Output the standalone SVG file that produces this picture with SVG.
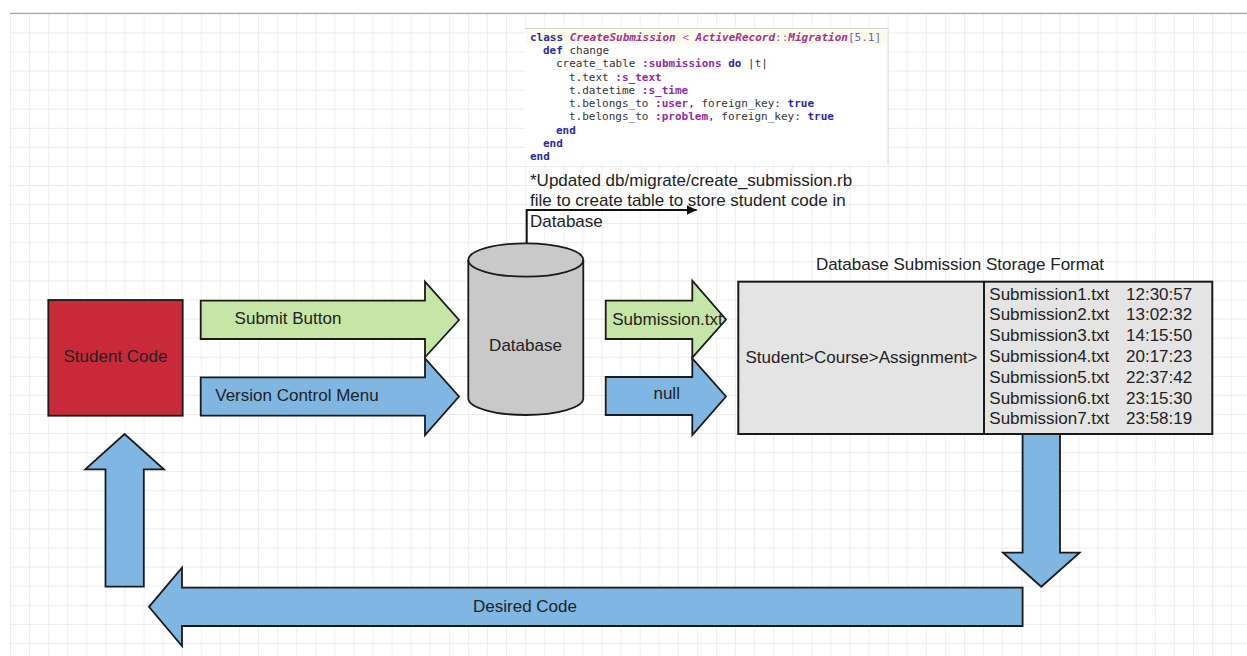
<svg xmlns="http://www.w3.org/2000/svg" width="1247" height="656" viewBox="0 0 1247 656">
<style>
.t{font-family:"Liberation Sans",Arial,sans-serif;font-size:17px;fill:#222}
.c{text-anchor:middle}
.ar{stroke:#1a1a1a;stroke-width:1.8;stroke-linejoin:miter}
.g{fill:#c6e6a7}
.b{fill:#80b7e2}
.code{font-family:"DejaVu Sans Mono",monospace;font-size:11px;fill:#333}
.kw{font-weight:bold;fill:#2a2aa0}
.sym{font-weight:bold;fill:#932ca3}
.cn{font-weight:bold;font-style:italic;fill:#a2358c}
.num{fill:#6a5cc4}
.op{fill:#a060a8}
</style>
<defs>
<pattern id="grid" x="10" y="13.3" width="19.08" height="19.08" patternUnits="userSpaceOnUse">
<path d="M0,0 V19.08 M0,0 H19.08" fill="none" stroke="#e4e4e4" stroke-width="1.2"/>
</pattern>
<marker id="ah" markerWidth="10" markerHeight="10" refX="10" refY="5" orient="auto" markerUnits="userSpaceOnUse" viewBox="0 0 10 10">
<path d="M0,0 L10,5 L0,10 Z" fill="#111"/>
</marker>
</defs>
<rect width="1247" height="656" fill="#fff"/>
<rect x="10" y="13.3" width="1237" height="642.7" fill="url(#grid)"/>
<line x1="10" y1="13.3" x2="1247" y2="13.3" stroke="#a8a8a8" stroke-width="1.2"/>

<g id="code-image">
<rect x="525" y="28.5" width="363" height="135.5" fill="#fff"/>
<line x1="525" y1="28.5" x2="888" y2="28.5" stroke="#d0d0d0"/>
<line x1="888" y1="28.5" x2="888" y2="164" stroke="#d8d8d8"/>
<rect x="526" y="29.5" width="361" height="15" fill="#fcfaea"/>
<text class="code" x="530" y="40.7"><tspan class="kw">class</tspan> <tspan class="cn">CreateSubmission</tspan> <tspan class="op">&lt;</tspan> <tspan class="cn">ActiveRecord</tspan><tspan class="op">::</tspan><tspan class="cn">Migration</tspan><tspan class="num">[5.1]</tspan></text>
<text class="code" x="543" y="54"><tspan class="kw">def</tspan> change</text>
<text class="code" x="556" y="67.2">create_table <tspan class="sym">:submissions</tspan> <tspan class="kw">do</tspan> |t|</text>
<text class="code" x="569" y="80.5">t.text <tspan class="sym">:s_text</tspan></text>
<text class="code" x="569" y="93.7">t.datetime <tspan class="sym">:s_time</tspan></text>
<text class="code" x="569" y="107">t.belongs_to <tspan class="sym">:user</tspan>, foreign_key: <tspan class="kw">true</tspan></text>
<text class="code" x="569" y="120.3">t.belongs_to <tspan class="sym">:problem</tspan>, foreign_key: <tspan class="kw">true</tspan></text>
<text class="code" x="556" y="133.5"><tspan class="kw">end</tspan></text>
<text class="code" x="543" y="146.8"><tspan class="kw">end</tspan></text>
<text class="code" x="530" y="160"><tspan class="kw">end</tspan></text>
</g>

<g id="note">
<text class="t" x="530" y="186">*Updated db/migrate/create_submission.rb</text>
<text class="t" x="530" y="206.3">file to create table to store student code in</text>
<text class="t" x="530" y="226.7">Database</text>
</g>

<g id="connectors">
<polyline points="526.7,243.3 526.7,210 696.7,210" fill="none" stroke="#111" stroke-width="2" marker-end="url(#ah)"/>
</g>

<g id="student-code">
<rect x="48.3" y="300" width="134.4" height="115.7" fill="#c92a3a" stroke="#1a1a1a" stroke-width="1.8"/>
<text class="t c" x="115.5" y="362">Student Code</text>
</g>

<g id="submit-button">
<path class="ar g" d="M200.7,300.7 H425 V281.7 L459,320 L425,357.3 V339 H200.7 Z"/>
<text class="t c" x="288" y="324.4">Submit Button</text>
</g>

<g id="version-control-menu">
<path class="ar b" d="M200.7,377.3 H425 V358.3 L459,396.5 L425,435 V415.7 H200.7 Z"/>
<text class="t c" x="297" y="401">Version Control Menu</text>
</g>

<g id="database">
<path d="M468.3,260 A57.5,16.7 0 0 1 583.3,260 V398.3 A57.5,16.7 0 0 1 468.3,398.3 Z" fill="#c9c9c9" stroke="#1a1a1a" stroke-width="1.8"/>
<path d="M468.3,260 A57.5,16.7 0 0 0 583.3,260" fill="none" stroke="#1a1a1a" stroke-width="1.8"/>
<text class="t c" x="525.5" y="351">Database</text>
</g>

<g id="submission-txt">
<path class="ar g" d="M605.7,300.7 H692.3 V280.7 L726,319.5 L692.3,357.7 V339 H605.7 Z"/>
<text class="t c" x="667.5" y="325">Submission.txt</text>
</g>

<g id="null">
<path class="ar b" d="M605.7,377 H692.3 V358.3 L726,396.5 L692.3,435 V415 H605.7 Z"/>
<text class="t c" x="666.7" y="399">null</text>
</g>

<g id="down-arrow">
<path class="ar b" d="M1022.6,434 V552.7 H1003 L1041.3,586.7 L1079.6,552.7 H1060 V434 Z"/>
</g>

<g id="storage-format">
<text class="t c" x="960" y="270">Database Submission Storage Format</text>
<rect x="738.3" y="281.7" width="474" height="152.3" fill="#e4e4e4" stroke="#1a1a1a" stroke-width="2"/>
<line x1="984" y1="281.7" x2="984" y2="434" stroke="#1a1a1a" stroke-width="2"/>
<text class="t c" x="861.5" y="362.7">Student&gt;Course&gt;Assignment&gt;</text>
<text class="t" x="989.3" y="299.5">Submission1.txt</text>
<text class="t" x="1126" y="299.5">12:30:57</text>
<text class="t" x="989.3" y="320.3">Submission2.txt</text>
<text class="t" x="1126" y="320.3">13:02:32</text>
<text class="t" x="989.3" y="341.1">Submission3.txt</text>
<text class="t" x="1126" y="341.1">14:15:50</text>
<text class="t" x="989.3" y="361.9">Submission4.txt</text>
<text class="t" x="1126" y="361.9">20:17:23</text>
<text class="t" x="989.3" y="382.7">Submission5.txt</text>
<text class="t" x="1126" y="382.7">22:37:42</text>
<text class="t" x="989.3" y="403.5">Submission6.txt</text>
<text class="t" x="1126" y="403.5">23:15:30</text>
<text class="t" x="989.3" y="424.3">Submission7.txt</text>
<text class="t" x="1126" y="424.3">23:58:19</text>
</g>

<g id="desired-code">
<path class="ar b" d="M1022.6,587.7 V626 H182 V646 L149,606.8 L182,567.7 V587.7 Z"/>
<text class="t c" x="525" y="612">Desired Code</text>
</g>

<g id="up-arrow">
<path class="ar b" d="M105.5,586.7 V469.3 H85.3 L124.6,434 L163.9,469.3 H143.8 V586.7 Z"/>
</g>
</svg>
